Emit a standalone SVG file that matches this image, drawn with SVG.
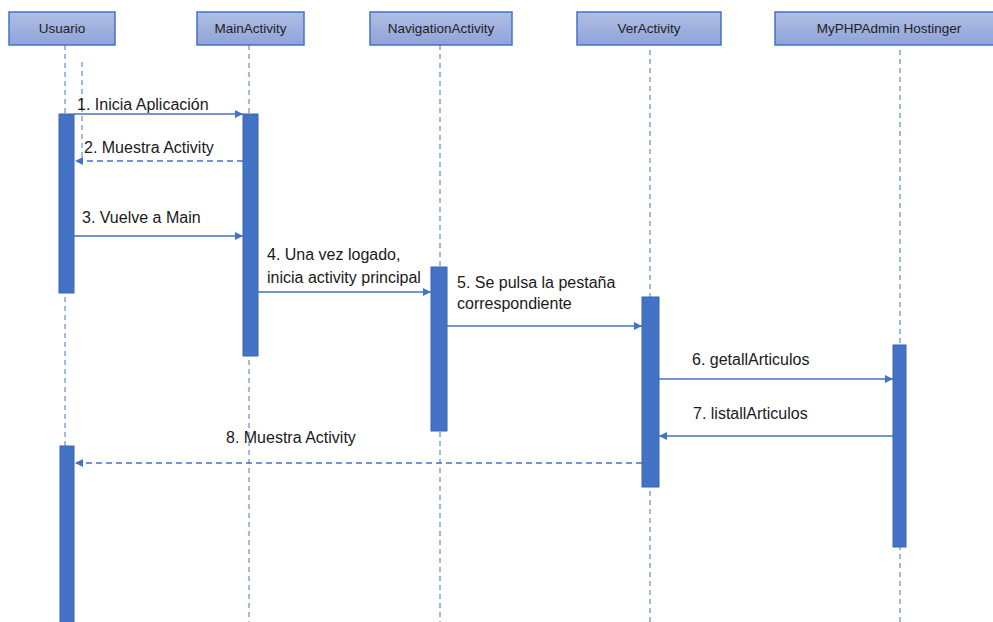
<svg xmlns="http://www.w3.org/2000/svg" width="993" height="622" viewBox="0 0 993 622">
  <defs>
    <linearGradient id="hdr" x1="0" y1="0" x2="0" y2="1">
      <stop offset="0" stop-color="#b0bee4"/>
      <stop offset="1" stop-color="#8ea3d9"/>
    </linearGradient>
    <marker id="arr" viewBox="0 0 10 10" refX="10" refY="5" markerWidth="8" markerHeight="8" markerUnits="userSpaceOnUse" orient="auto">
      <path d="M0,0 L10,5 L0,10 z" fill="#4472c4"/>
    </marker>
  </defs>
  <style>
    .hdr { fill: url(#hdr); stroke: #4472c4; stroke-width: 1.5; }
    .hdrtxt { font-family: "Liberation Sans", Arial, sans-serif; font-size: 13.5px; fill: #222; text-anchor: middle; }
    .life { stroke: #4472c4; stroke-width: 1; stroke-dasharray: 5 4; fill: none; }
    .bar { fill: #4472c4; stroke: #3a64b0; stroke-width: 1; }
    .msg { stroke: #4472c4; stroke-width: 1.3; fill: none; marker-end: url(#arr); }
    .ret { stroke: #4472c4; stroke-width: 1.3; fill: none; stroke-dasharray: 6 4; marker-end: url(#arr); }
    .lbl { font-family: "Liberation Sans", Arial, sans-serif; font-size: 16px; fill: #1a1a1a; }
  </style>
  <rect width="993" height="622" fill="#ffffff"/>

  <!-- lifelines -->
  <g id="lifelines">
    <line class="life" x1="65" y1="45" x2="65" y2="622"/>
    <line class="life" x1="82" y1="62" x2="82" y2="158"/>
    <line class="life" x1="249" y1="45" x2="249" y2="622"/>
    <line class="life" x1="440" y1="45" x2="440" y2="622"/>
    <line class="life" x1="650" y1="50" x2="650" y2="622"/>
    <line class="life" x1="900" y1="50" x2="900" y2="622"/>
  </g>

  <!-- participants -->
  <g id="usuario">
    <rect class="hdr" x="9" y="12" width="106" height="33"/>
    <text class="hdrtxt" x="62" y="33">Usuario</text>
    <rect class="bar" x="59" y="114" width="15" height="179"/>
    <rect class="bar" x="60" y="446" width="14" height="180"/>
  </g>
  <g id="mainactivity">
    <rect class="hdr" x="197" y="12" width="107" height="33"/>
    <text class="hdrtxt" x="250.5" y="33">MainActivity</text>
    <rect class="bar" x="243" y="114" width="15" height="242"/>
  </g>
  <g id="navigationactivity">
    <rect class="hdr" x="370" y="12" width="142" height="33"/>
    <text class="hdrtxt" x="441" y="33">NavigationActivity</text>
    <rect class="bar" x="431" y="267" width="16" height="164"/>
  </g>
  <g id="veractivity">
    <rect class="hdr" x="577" y="12" width="144" height="33"/>
    <text class="hdrtxt" x="649" y="33">VerActivity</text>
    <rect class="bar" x="642" y="297" width="17" height="190"/>
  </g>
  <g id="myphpadmin">
    <rect class="hdr" x="775" y="12" width="230" height="33"/>
    <text class="hdrtxt" x="889" y="33">MyPHPAdmin Hostinger</text>
    <rect class="bar" x="893" y="345" width="13" height="202"/>
  </g>

  <!-- messages -->
  <g id="connectors">
    <line class="msg" x1="74" y1="114" x2="243" y2="114"/>
    <line class="ret" x1="243" y1="161" x2="75" y2="161"/>
    <line class="msg" x1="74" y1="236" x2="243" y2="236"/>
    <line class="msg" x1="258" y1="292" x2="431" y2="292"/>
    <line class="msg" x1="447" y1="326" x2="642" y2="326"/>
    <line class="msg" x1="659" y1="379" x2="893" y2="379"/>
    <line class="msg" x1="893" y1="436" x2="659" y2="436"/>
    <line class="ret" x1="642" y1="463" x2="75" y2="463"/>
  </g>

  <!-- message labels -->
  <g id="labels">
    <text class="lbl" x="77" y="110">1. Inicia Aplicación</text>
    <text class="lbl" x="84" y="153">2. Muestra Activity</text>
    <text class="lbl" x="82" y="223">3. Vuelve a Main</text>
    <text class="lbl" x="267" y="260">4. Una vez logado,</text>
    <text class="lbl" x="267" y="283">inicia activity principal</text>
    <text class="lbl" x="457" y="288">5. Se pulsa la pestaña</text>
    <text class="lbl" x="457" y="309">correspondiente</text>
    <text class="lbl" x="692" y="365">6. getallArticulos</text>
    <text class="lbl" x="693" y="419">7. listallArticulos</text>
    <text class="lbl" x="226" y="443">8. Muestra Activity</text>
  </g>
</svg>
